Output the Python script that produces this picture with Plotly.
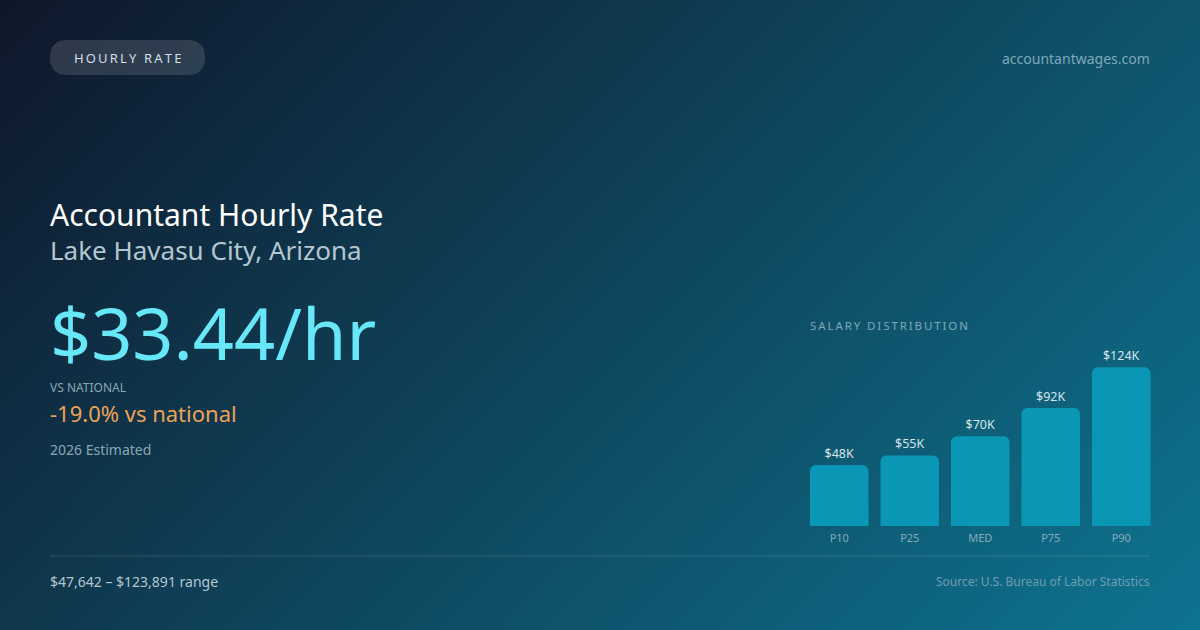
import base64
import plotly.graph_objects as go

W, H = 1200, 630

# ---- data ----
categories = ["P10", "P25", "MED", "P75", "P90"]
salary_k = [47.642, 55.0, 70.0, 92.0, 123.891]
bar_labels = ["$48K", "$55K", "$70K", "$92K", "$124K"]

title = "Accountant Hourly Rate"
location = "Lake Havasu City, Arizona"
hourly = "$33.44/hr"
vs_label = "VS NATIONAL"
vs_value = "-19.0% vs national"
est_note = "2026 Estimated"
range_note = "$47,642 – $123,891 range"
source_note = "Source: U.S. Bureau of Labor Statistics"
badge = "HOURLY RATE"
site = "accountantwages.com"
dist_title = "SALARY DISTRIBUTION"

FONT = "Noto Sans"

def spaced(s):
    return "\u2009".join(list(s))

def py(p):
    return 1 - p / H

def px(p):
    return p / W

# background gradient as svg image
svg = f'''<svg xmlns="http://www.w3.org/2000/svg" width="{W}" height="{H}" viewBox="0 0 {W} {H}">
<defs><linearGradient id="g" gradientUnits="userSpaceOnUse" x1="142.5" y1="-142.5" x2="1057.5" y2="772.5">
<stop offset="0" stop-color="#0f172a"/><stop offset="1" stop-color="#0e7490"/></linearGradient></defs>
<rect width="{W}" height="{H}" fill="url(#g)"/></svg>'''
bg_uri = "data:image/svg+xml;base64," + base64.b64encode(svg.encode()).decode()

fig = go.Figure()
fig.add_trace(go.Bar(
    x=categories, y=salary_k, text=bar_labels, textposition="outside",
    textfont=dict(family=FONT, size=12.5, color="#d3e4ec"),
    marker=dict(color="#0a97b5", cornerradius=6, line=dict(width=0)),
    cliponaxis=False, hoverinfo="skip",
))

fig.update_layout(
    width=W, height=H, margin=dict(l=0, r=0, t=0, b=0),
    paper_bgcolor="#0e4560", plot_bgcolor="rgba(0,0,0,0)",
    showlegend=False, bargap=0.17,
    font=dict(family=FONT),
    xaxis=dict(domain=[804 / W, 1156.5 / W], showgrid=False, zeroline=False, showline=False,
               ticks="", ticklabelstandoff=4,
               tickfont=dict(family=FONT, size=11, color="#86aabb"), fixedrange=True),
    yaxis=dict(domain=[py(526), py(367)], range=[0, 124], visible=False, fixedrange=True),
    images=[dict(source=bg_uri, xref="paper", yref="paper", x=0, y=1, sizex=1, sizey=1,
                 sizing="stretch", layer="below", xanchor="left", yanchor="top")],
)

# pill badge
x0, x1, y0, y1 = px(50), px(205), py(40), py(75)
rx, ry = 17.5 / W, 17.5 / H
path = (f"M {x0+rx},{y0} L {x1-rx},{y0} Q {x1},{y0} {x1},{y0-ry} L {x1},{y1+ry} "
        f"Q {x1},{y1} {x1-rx},{y1} L {x0+rx},{y1} Q {x0},{y1} {x0},{y1+ry} L {x0},{y0-ry} "
        f"Q {x0},{y0} {x0+rx},{y0} Z")
fig.add_shape(type="path", path=path, xref="paper", yref="paper",
              fillcolor="rgba(255,255,255,0.13)", line=dict(width=0), layer="below")

# divider line
fig.add_shape(type="line", xref="paper", yref="paper", x0=px(50), x1=px(1150), y0=py(556), y1=py(556),
              line=dict(color="rgba(255,255,255,0.13)", width=1))

def ann(text, x, y, size, color, anchor="left"):
    fig.add_annotation(text=text, x=px(x), y=py(y), xref="paper", yref="paper",
                       xanchor=anchor, yanchor="middle", showarrow=False,
                       font=dict(family=FONT, size=size, color=color))

ann(spaced(badge), 127.5, 58, 13, "#d3dee6", anchor="center")
ann(site, 1152, 58, 14, "#7ea8ba", anchor="right")
ann(title, 48, 214, 30, "#ffffff")
ann(location, 48, 250, 26, "#b4c6d0")
ann(hourly, 48, 332, 72, "#67e8f9")
ann(vs_label, 48, 387, 12, "#87a6b6")
ann(vs_value, 48, 413, 22, "#eca257")
ann(est_note, 48, 449, 14, "#8aa6b5")
ann(spaced(dist_title), 808, 325, 11.5, "#80a7b9")
ann(range_note, 48, 581, 14, "#b4c6d0")
ann(source_note, 1152, 581, 12, "#6e9db1", anchor="right")

fig.write_html("out.html", config={"displayModeBar": False},
               post_script="document.body.style.margin='0';document.body.style.overflow='hidden';")
